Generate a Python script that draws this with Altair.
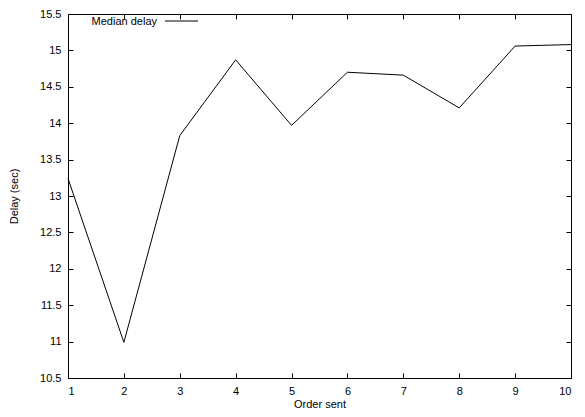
import altair as alt
import pandas as pd

order = [1, 2, 3, 4, 5, 6, 7, 8, 9, 10]
delay = [13.24, 10.99, 13.83, 14.87, 13.97, 14.70, 14.66, 14.21, 15.06, 15.08]
x_ticks = [1, 2, 3, 4, 5, 6, 7, 8, 9, 10]
y_ticks = [10.5, 11, 11.5, 12, 12.5, 13, 13.5, 14, 14.5, 15, 15.5]
legend_label = ["Median delay"]

W, H = 503, 364
FONT = "Liberation Sans"

df = pd.DataFrame({"order": order, "delay": delay})
xs = alt.Scale(domain=[1, 10], nice=False, zero=False)
ys = alt.Scale(domain=[10.5, 15.5], nice=False, zero=False)

line = alt.Chart(df).mark_line(color="black", strokeWidth=1).encode(
    x=alt.X("order:Q", scale=xs, axis=alt.Axis(
        orient="bottom", values=x_ticks, labelExpr="datum.value", ticks=False,
        domain=False, grid=False, labelPadding=7, title="Order sent",
        titleX=W / 2, titleY=29, titleBaseline="alphabetic")),
    y=alt.Y("delay:Q", scale=ys, axis=alt.Axis(
        orient="left", values=y_ticks, labelExpr="datum.value", ticks=False,
        domain=False, grid=False, labelPadding=7, title="Delay (sec)",
        titleX=-54, titleY=H / 2, titleBaseline="middle")),
)

ticks_bl = alt.Chart(df).mark_line(strokeOpacity=0).encode(
    x=alt.X("order:Q", scale=xs, axis=alt.Axis(
        orient="top", offset=-H, values=x_ticks, labels=False, domain=False,
        grid=False, ticks=True, tickSize=5, title=None)),
    y=alt.Y("delay:Q", scale=ys, axis=alt.Axis(
        orient="right", offset=-W, values=y_ticks, labels=False, domain=False,
        grid=False, ticks=True, tickSize=5, title=None)),
)

ticks_tr = alt.Chart(df).mark_line(strokeOpacity=0).encode(
    x=alt.X("order:Q", scale=xs, axis=alt.Axis(
        orient="bottom", offset=-H, values=x_ticks, labels=False, domain=False,
        grid=False, ticks=True, tickSize=5, title=None)),
    y=alt.Y("delay:Q", scale=ys, axis=alt.Axis(
        orient="left", offset=-W, values=y_ticks, labels=False, domain=False,
        grid=False, ticks=True, tickSize=5, title=None)),
)

leg_text = alt.Chart(pd.DataFrame({"label": legend_label})).mark_text(
    align="right", baseline="middle", fontSize=11, font=FONT, color="black"
).encode(text="label:N", x=alt.value(89), y=alt.value(8))

leg_line = alt.Chart(pd.DataFrame({"label": legend_label})).mark_rule(
    color="black", strokeWidth=1
).encode(x=alt.value(97), x2=alt.value(130), y=alt.value(7))

chart = alt.layer(line, ticks_bl, ticks_tr, leg_text, leg_line).resolve_axis(
    x="independent", y="independent"
).resolve_scale(x="shared", y="shared").properties(
    width=W, height=H,
    autosize=alt.AutoSizeParams(type="none"),
    padding={"left": 60, "top": 6, "right": 6, "bottom": 31},
    background="white",
).configure_view(
    stroke="black", strokeWidth=1
).configure_axis(
    labelFont=FONT, labelFontSize=11, labelColor="black",
    titleFont=FONT, titleFontSize=11, titleColor="black", titleFontWeight="normal",
    tickColor="black", tickWidth=1,
)

chart.save("out.html", embed_options={"renderer": "svg", "actions": False})
